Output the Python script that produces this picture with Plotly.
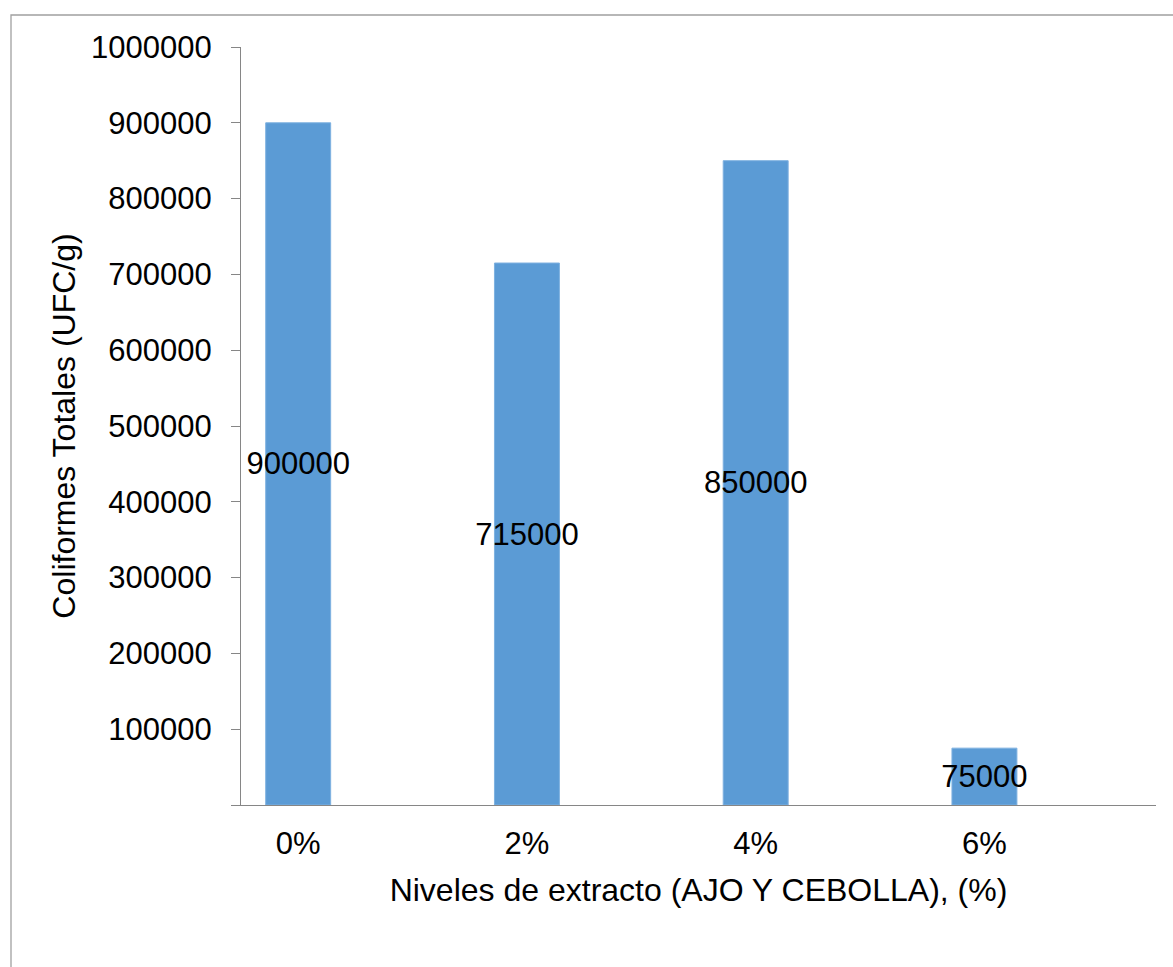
import plotly.graph_objects as go

# Coliform counts per extract level
niveles = ["0%", "2%", "4%", "6%"]
coliformes = [900000, 715000, 850000, 75000]

y_ticks = [0, 100000, 200000, 300000, 400000, 500000, 600000, 700000, 800000, 900000, 1000000]
y_tick_text = [""] + [str(v) for v in y_ticks[1:]]

FONT = "Liberation Sans, Arial, sans-serif"
AXIS_GRAY = "#868686"

fig = go.Figure(
    go.Bar(
        x=niveles,
        y=coliformes,
        width=0.284,
        marker=dict(color="#5B9BD5", line=dict(color="#7EB1E0", width=1)),
        text=[str(v) for v in coliformes],
        textposition="inside",
        insidetextanchor="middle",
        textangle=0,
        constraintext="none",
        insidetextfont=dict(family=FONT, size=31, color="#000000"),
        hoverinfo="skip",
    )
)

fig.update_layout(
    width=1173,
    height=967,
    margin=dict(l=241, r=17, t=47, b=162),
    paper_bgcolor="white",
    plot_bgcolor="white",
    showlegend=False,
    font=dict(family=FONT, size=31, color="#000000"),
    xaxis=dict(
        type="category",
        range=[-0.25, 3.75],
        showline=True,
        linecolor=AXIS_GRAY,
        linewidth=1,
        ticks="",
        ticklabelstandoff=11,
        showgrid=False,
        zeroline=False,
        tickfont=dict(family=FONT, size=31, color="#000000"),
        title=dict(
            text="Niveles de extracto (AJO Y CEBOLLA), (%)",
            font=dict(family=FONT, size=32, color="#000000"),
            standoff=18,
        ),
    ),
    yaxis=dict(
        range=[0, 1000000],
        tickvals=y_ticks,
        ticktext=y_tick_text,
        showline=True,
        linecolor=AXIS_GRAY,
        linewidth=1,
        ticks="outside",
        ticklen=9,
        tickcolor=AXIS_GRAY,
        tickwidth=1,
        ticklabelstandoff=13,
        showgrid=False,
        zeroline=False,
        tickfont=dict(family=FONT, size=31, color="#000000"),
        title=dict(
            text="Coliformes Totales (UFC/g)",
            font=dict(family=FONT, size=32, color="#000000"),
            standoff=5,
        ),
    ),
    shapes=[
        # chart-area frame, running off the right and bottom edges
        dict(
            type="rect",
            xref="paper",
            yref="paper",
            x0=(11 - 241) / 915,
            x1=(1190 - 241) / 915,
            y0=(805 - 990) / 758,
            y1=(805 - 15) / 758,
            line=dict(color="#A0A0A0", width=1.3),
            fillcolor="rgba(0,0,0,0)",
            layer="below",
        )
    ],
)

fig.write_html("out.html")
